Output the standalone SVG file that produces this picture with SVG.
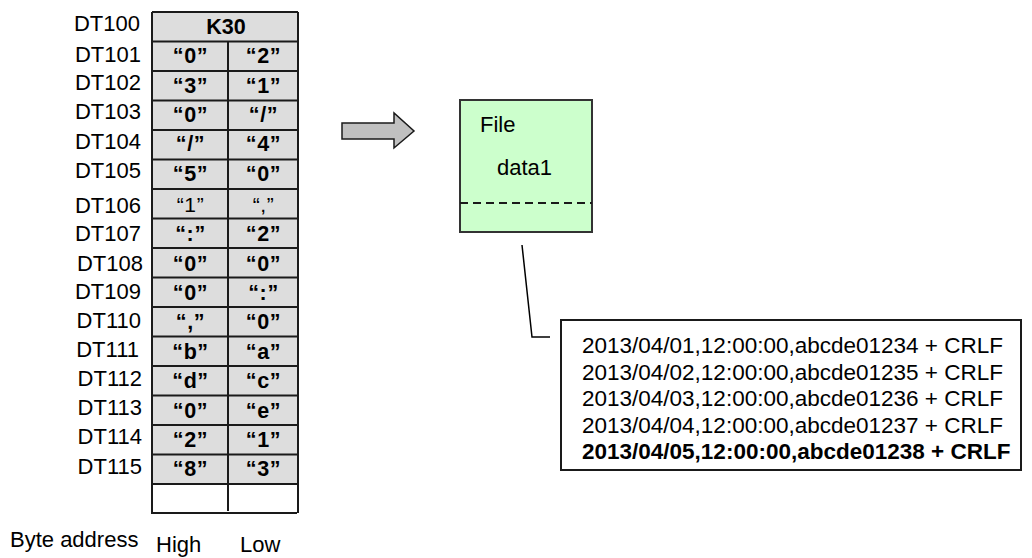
<svg xmlns="http://www.w3.org/2000/svg" width="1032" height="558" viewBox="0 0 1032 558">
<style>
text{font-family:"Liberation Sans",Arial,sans-serif;fill:#000}
.lbl{font-size:22px;text-anchor:end}
.cell{font-size:21.5px;font-weight:bold;text-anchor:middle;letter-spacing:0.6px}
.reg{font-size:21px;text-anchor:middle;letter-spacing:0.6px}
.grid{stroke:#1a1a1a;stroke-width:2;fill:none}
.data{font-size:22.5px}
.big{font-size:22px}
</style>
<rect width="1032" height="558" fill="#fff"/>
<g id="table">
<rect x="152" y="12" width="146" height="472" fill="#dddddd"/>
<rect x="152" y="484" width="146" height="29" fill="#ffffff"/>
<path class="grid" d="M152 12H298M152 41.5H298M152 71H298M152 100.5H298M152 130H298M152 159.5H298M152 189H298M152 218.5H298M152 248H298M152 277.5H298M152 307H298M152 336.5H298M152 366H298M152 395.5H298M152 425H298M152 454.5H298M152 484H298M151 513H297M152 12V513M298 12V513M228 41.5V511"/>
<text class="cell" x="226" y="33.5" style="letter-spacing:0">K30</text>
<text class="cell" x="190.5" y="63">“0”</text><text class="cell" x="263.5" y="63">“2”</text>
<text class="cell" x="190.5" y="92.5">“3”</text><text class="cell" x="263.5" y="92.5">“1”</text>
<text class="cell" x="190.5" y="121.5">“0”</text><text class="cell" x="263.5" y="121.5">“/”</text>
<text class="cell" x="190.5" y="151">“/”</text><text class="cell" x="263.5" y="151">“4”</text>
<text class="cell" x="190.5" y="181">“5”</text><text class="cell" x="263.5" y="181">“0”</text>
<text class="reg" x="190.5" y="211.5">“1”</text><text class="reg" x="263.5" y="211.5">“,”</text>
<text class="cell" x="190.5" y="241">“:”</text><text class="cell" x="263.5" y="241">“2”</text>
<text class="cell" x="190.5" y="271">“0”</text><text class="cell" x="263.5" y="271">“0”</text>
<text class="cell" x="190.5" y="300">“0”</text><text class="cell" x="263.5" y="300">“:”</text>
<text class="cell" x="190.5" y="328.5">“,”</text><text class="cell" x="263.5" y="328.5">“0”</text>
<text class="cell" x="190.5" y="359">“b”</text><text class="cell" x="263.5" y="359">“a”</text>
<text class="cell" x="190.5" y="388">“d”</text><text class="cell" x="263.5" y="388">“c”</text>
<text class="cell" x="190.5" y="418">“0”</text><text class="cell" x="263.5" y="418">“e”</text>
<text class="cell" x="190.5" y="447">“2”</text><text class="cell" x="263.5" y="447">“1”</text>
<text class="cell" x="190.5" y="476">“8”</text><text class="cell" x="263.5" y="476">“3”</text>
</g>
<g id="labels">
<text class="lbl" x="140" y="31">DT100</text>
<text class="lbl" x="141" y="62">DT101</text>
<text class="lbl" x="141" y="90">DT102</text>
<text class="lbl" x="141" y="119">DT103</text>
<text class="lbl" x="141" y="149">DT104</text>
<text class="lbl" x="141" y="178">DT105</text>
<text class="lbl" x="141" y="213">DT106</text>
<text class="lbl" x="141" y="241">DT107</text>
<text class="lbl" x="143" y="271">DT108</text>
<text class="lbl" x="141" y="299">DT109</text>
<text class="lbl" x="141" y="328">DT110</text>
<text class="lbl" x="139" y="357">DT111</text>
<text class="lbl" x="142" y="386">DT112</text>
<text class="lbl" x="142" y="415">DT113</text>
<text class="lbl" x="142" y="444">DT114</text>
<text class="lbl" x="142" y="474">DT115</text>
<text class="big" x="10" y="547">Byte address</text>
<text class="big" x="156" y="552">High</text>
<text class="big" x="240" y="552">Low</text>
</g>
<g id="arrow">
<path d="M342 123H394V113L414 131L394 148V139H342Z" fill="#c0c0c0" stroke="#1a1a1a" stroke-width="1.5"/>
</g>
<g id="file">
<rect x="460" y="100" width="132" height="132" fill="#ccffcc" stroke="#333" stroke-width="2"/>
<line x1="460" y1="203" x2="592" y2="203" stroke="#1a1a1a" stroke-width="1.8" stroke-dasharray="8,5"/>
<text class="big" x="480" y="132">File</text>
<text class="big" x="497" y="175">data1</text>
</g>
<g id="connectors">
<polyline points="522,245 532,337 550,337" fill="none" stroke="#000" stroke-width="1.5"/>
</g>
<g id="records">
<rect x="561" y="320" width="460" height="150" fill="#fff" stroke="#1a1a1a" stroke-width="2"/>
<text class="data" x="582" y="353">2013/04/01,12:00:00,abcde01234 + CRLF</text>
<text class="data" x="582" y="379.5">2013/04/02,12:00:00,abcde01235 + CRLF</text>
<text class="data" x="582" y="406">2013/04/03,12:00:00,abcde01236 + CRLF</text>
<text class="data" x="582" y="432.5">2013/04/04,12:00:00,abcde01237 + CRLF</text>
<text class="data" x="582" y="459" font-weight="bold">2013/04/05,12:00:00,abcde01238 + CRLF</text>
</g>
</svg>
